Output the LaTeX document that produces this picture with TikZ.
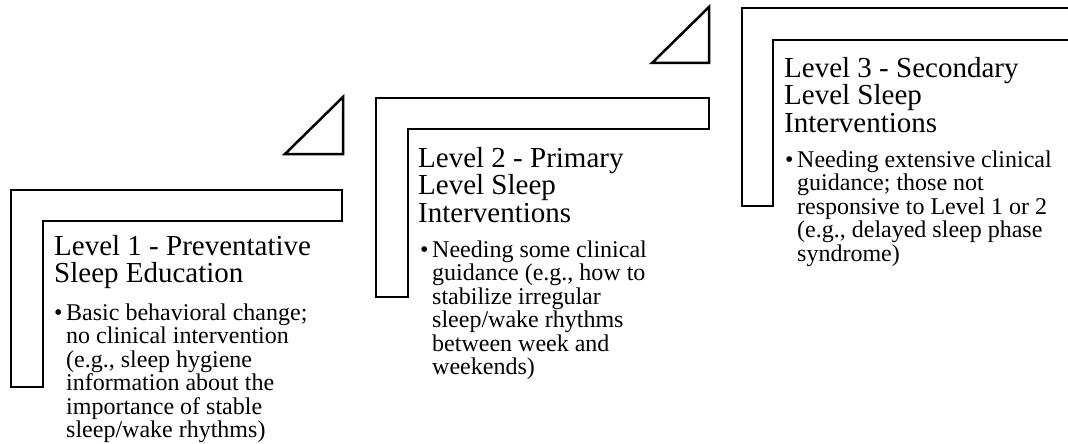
\documentclass[tikz,border=0pt]{standalone}
\usepackage{fontspec}
\setmainfont{Liberation Serif}
\begin{document}
\begin{tikzpicture}[x=1pt,y=-1pt,
  shapeline/.style={draw=black,line width=2.5pt,line join=miter},
  titletext/.style={anchor=north west,inner sep=0pt,align=left,font=\fontsize{29}{27.5}\selectfont},
  bodytext/.style={anchor=north west,inner sep=0pt,align=left,font=\fontsize{24}{23.5}\selectfont},
  bulletmark/.style={anchor=base west,inner sep=0pt,font=\fontsize{24}{23.5}\selectfont}]
\useasboundingbox (0,0) rectangle (1068,444);
\fill[white] (0,0) rectangle (1068,444);
\clip (0,0) rectangle (1068,444);
% L-shapes
\draw[shapeline] (11,190) -- (342,190) -- (342,221) -- (43,221) -- (43,387) -- (11,387) -- cycle;
\draw[shapeline] (376,98) -- (709,98) -- (709,129) -- (408,129) -- (408,297) -- (376,297) -- cycle;
\draw[shapeline] (742,8) -- (1080,8) -- (1080,40) -- (773,40) -- (773,206) -- (742,206) -- cycle;
% triangles
\draw[shapeline] (285,154) -- (343,97) -- (343,154) -- cycle;
\draw[shapeline] (652,63) -- (709,7) -- (709,63) -- cycle;
% texts
\node[titletext] (t1) at (54,233) {\rule{0pt}{22pt}Level 1 - Preventative\\Sleep Education};
\node[bulletmark] (b1) at (54,320) {\textbullet};
\node[bodytext] (d1) at (66,301) {\rule{0pt}{19pt}Basic behavioral change;\\no clinical intervention\\(e.g., sleep hygiene\\information about the\\importance of stable\\sleep/wake rhythms)};
\node[titletext] (t2) at (418,145) {\rule{0pt}{22pt}Level 2 - Primary\\Level Sleep\\Interventions};
\node[bulletmark] (b2) at (420,257) {\textbullet};
\node[bodytext] (d2) at (432,238) {\rule{0pt}{19pt}Needing some clinical\\guidance (e.g., how to\\stabilize irregular\\sleep/wake rhythms\\between week and\\weekends)};
\node[titletext] (t3) at (784,55) {\rule{0pt}{22pt}Level 3 - Secondary\\Level Sleep\\Interventions};
\node[bulletmark] (b3) at (785,167) {\textbullet};
\node[bodytext] (d3) at (797,148) {\rule{0pt}{19pt}Needing extensive clinical\\guidance; those not\\responsive to Level 1 or 2\\(e.g., delayed sleep phase\\syndrome)};
\end{tikzpicture}
\end{document}
